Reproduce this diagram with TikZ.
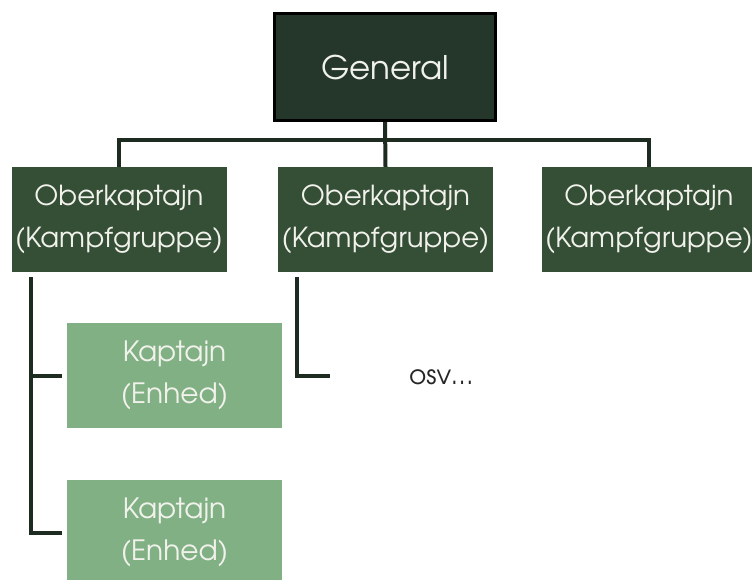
\documentclass[tikz,border=0pt]{standalone}
\usepackage{fontspec}
\setmainfont{TeX Gyre Adventor}
\definecolor{genfill}{HTML}{25372A}
\definecolor{obfill}{HTML}{354F36}
\definecolor{kapfill}{HTML}{80B083}
\definecolor{linec}{HTML}{1E2B20}
\definecolor{txtlight}{HTML}{F2F2EC}
\begin{document}
\begin{tikzpicture}[x=1pt,y=-1pt,
  genbox/.style={draw=black,line width=3pt,fill=genfill,text=txtlight,minimum width=221pt,minimum height=107pt,inner sep=0pt,font=\fontsize{32.5}{38}\selectfont},
  obbox/.style={fill=obfill,text=txtlight,minimum width=215pt,minimum height=105pt,inner sep=0pt,align=center,font=\fontsize{27.6}{42}\selectfont},
  kapbox/.style={fill=kapfill,text=txtlight,minimum width=215pt,minimum height=105pt,inner sep=0pt,align=center,font=\fontsize{28}{42}\selectfont},
  conn/.style={draw=linec,line width=4pt}]
\useasboundingbox (0,0) rectangle (752,579);
\clip (0,0) rectangle (752,579);
\node[genbox] (gen) at (385,67) {General};
\node[obbox] (ob1) at (119,219.5) {Oberkaptajn\\(Kampfgruppe)};
\node[obbox] (ob2) at (385.5,219.5) {Oberkaptajn\\(Kampfgruppe)};
\node[obbox] (ob3) at (649,219.5) {Oberkaptajn\\(Kampfgruppe)};
\node[kapbox] (k1) at (174.5,375.5) {Kaptajn\\(Enhed)};
\node[kapbox] (k2) at (174.5,532.5) {Kaptajn\\(Enhed)};
\node[font=\fontsize{26.5}{30}\selectfont,text=black!85] (osv) at (441,377) {osv…};
\coordinate (bar) at (386,140);
\draw[conn] (gen.south) -- (ob2.north);
\draw[conn] (ob1.north) |- (bar) -| (ob3.north);
\coordinate (l1) at (31,277);
\draw[conn] (l1) |- ([xshift=-5pt]k1.west);
\draw[conn] (l1) |- ([xshift=-5pt]k2.west);
\coordinate (l2) at (297,277);
\coordinate (e2) at (330,376);
\draw[conn] (l2) |- (e2);
\end{tikzpicture}
\end{document}
